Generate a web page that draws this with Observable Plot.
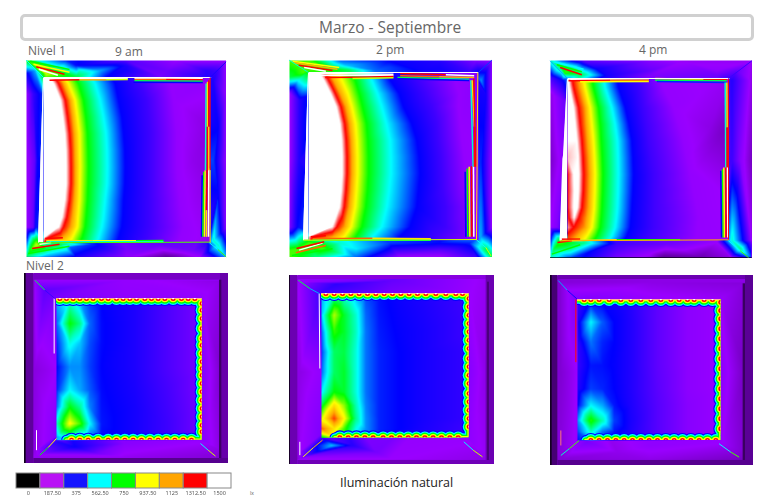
<!DOCTYPE html>
<html><head><meta charset="utf-8">
<script src="https://cdn.jsdelivr.net/npm/d3@7"></script>
<script src="https://cdn.jsdelivr.net/npm/@observablehq/plot@0.6"></script>
<style>
html,body{margin:0;padding:0;background:#fff;width:770px;height:500px;overflow:hidden;font-family:"Open Sans",sans-serif}
.t{position:absolute;white-space:nowrap;color:#666;font-size:12px;line-height:14px}
.p{position:absolute;filter:blur(.35px)}
.q{filter:blur(.55px)}
svg{display:block}
</style></head><body>
<div id="root"></div>
<script>
// illuminance scale (lux) and legend
const levels=[0,187.5,375,562.5,750,937.5,1125,1312.5,1500];
const levelLabels=["0","187.50","375","562.50","750","937.50","1125","1312.50","1500"];
const legendColors=["#000000","#b912f5","#1414ff","#00ffff","#00ff00","#ffff00","#ffa500","#ff0000","#ffffff"];
const fieldColors=["#000000","#9a00ff","#0000ff","#00ffff","#00ff00","#ffff00","#ffa500","#ff0000","#ffffff"];
const isoLevels=[1500,1312.5,1125,937.5,750,562.5,375,300,195];

// ---- Nivel 1, 9 am
const a1Frame=[[0,0,750],[40,0,560],[120,0,400],[300,0,270],[450,0,190],[600,0,190],[30,15,900],[90,15,560],[150,15,380],[300,15,340],[40,25,1000],[100,30,700],[160,30,600],[220,30,500],[300,30,350],[420,30,240],[540,30,320],[60,40,900],[100,42,800],[150,48,700],[240,48,380],[400,48,230],[540,48,330],[0,40,350],[25,30,500],[0,100,190],[0,300,175],[0,500,190],[20,100,310],[25,300,260],[20,500,250],[45,100,400],[33,300,370],[28,500,390],[560,60,340],[575,30,300],[600,100,190],[600,300,185],[600,500,200],[575,200,370],[575,400,370],[560,300,420],[560,540,600],[575,555,600],[600,590,500],[30,552,900],[100,552,700],[200,552,400],[400,552,250],[540,552,320],[15,565,800],[60,565,700],[130,560,450],[300,565,230],[500,570,230],[0,590,650],[50,590,500],[150,590,350],[300,590,200],[420,590,110],[520,590,190]];
const a1Rows=[52,70,120,170,220,270,320,370,420,470,500,535,548];
const a1Iso=[
[70,85,100,115,145,195,255,330,420],[83,97,112,127,157,207,267,342,432],[103,117,132,147,172,222,277,362,442],[110,124,139,154,179,232,287,367,447],[116,130,144,160,184,240,292,372,452],[119,133,146,161,186,243,296,372,452],[120,134,147,162,187,244,297,372,452],[120,134,147,161,186,243,296,372,456],[116,130,144,160,184,237,292,372,462],[108,122,139,156,180,232,290,372,467],[98,112,134,154,177,227,287,372,472],[50,62,107,137,167,217,277,362,462],[45,55,100,130,160,210,270,355,455]];
const a1Extra=[[45,52,1600],[45,300,1600],[45,548,1500],[552,52,200],[552,200,165],[552,350,165],[552,548,180],[500,300,175]];
const a1Wedge=[[52,52],[548,37]];
const a1Walls=[[[52,52,1500],[555,52,1500]],[[52,52,1500],[37,548,1400]],[[552,52,1300],[552,330,1000],[552,548,1500]],[[37,548,800],[552,546,450]],[[550,548,560],[575,568,800],[600,590,500]],[[52,52,560],[0,0,700]],[[552,52,340],[600,5,250]]];
const a1Bands=[[[55,56,1500],[305,55,1500]],[[70,60,1312],[160,59,1100],[240,59,900],[305,58,800]],[[325,54,1500],[530,55,1400]],[[325,58,1200],[420,58,1312],[530,59,1200]],[[325,62,700],[530,63,650]],[[322,66,375],[530,67,375]],
[[528,345,375],[526,530,375]],[[533,335,750],[530,530,750]],[[537,330,937],[535,530,1100]],[[543,328,1312],[541,450,1000],[541,530,1312]],[[548,325,1500],[547,530,1500]],
[[540,70,600],[538,330,560]],[[544,65,1000],[544,200,1300],[544,330,900]],[[548,60,1312],[548,200,1000],[548,330,1312]],
[[57,535,1312],[110,533,1312]],[[60,541,1000],[200,542,937],[330,542,750],[412,541,600]],[[60,545,600],[412,545,400]],
[[12,3,750],[130,28,560]],[[22,12,937],[130,36,750]],[[30,20,1312],[115,42,1000]],[[38,27,1500],[95,45,1500]],
[[40,552,1500],[75,547,1500]],[[18,565,1312],[100,552,1000]],[[6,580,750],[130,558,560]]];

// ---- Nivel 1, 2 pm
const a2Frame=[[0,0,800],[60,0,800],[150,0,450],[300,0,370],[450,0,330],[560,0,220],[608,0,200],[30,15,800],[90,15,800],[170,15,520],[300,20,420],[450,20,350],[60,28,800],[110,28,800],[180,30,700],[260,30,450],[400,30,360],[540,30,300],[0,50,700],[0,100,190],[0,300,190],[0,500,220],[0,570,800],[25,60,560],[30,120,330],[28,300,330],[25,500,380],[42,37,800],[575,60,480],[575,300,400],[590,100,350],[590,300,300],[608,100,190],[608,300,190],[608,500,190],[575,530,500],[590,570,700],[608,590,700],[60,548,800],[150,548,600],[300,548,420],[450,548,380],[540,548,400],[30,565,800],[100,565,800],[200,565,550],[300,570,350],[450,570,260],[0,590,800],[80,590,650],[200,590,450],[330,590,190],[450,590,180],[560,590,300]];
const a2Rows=[37,60,100,140,190,240,290,340,390,440,500,530,540];
const a2Iso=[
[90,105,120,145,185,235,290,375,485],[104,118,133,158,198,248,303,388,498],[124,138,153,176,210,265,330,410,510],[141,155,170,188,220,278,343,428,508],[152,166,181,199,232,292,368,443,513],[157,171,186,203,236,303,383,448,518],[159,173,188,205,238,305,390,455,525],[159,173,188,205,238,305,393,458,530],[156,170,185,202,235,300,388,460,535],[151,165,180,198,230,293,383,468,550],[129,143,166,186,218,278,363,468,560],[56,70,130,165,200,250,330,440,565],[50,65,125,160,195,245,325,435,560]];
const a2Extra=[[58,37,1600],[58,300,1600],[58,540,1500],[568,37,210],[568,300,190],[568,540,200]];
const a2Wedge=[[37,58],[540,43]];
const a2Walls=[[[58,37,1500],[568,37,1500]],[[58,37,1500],[43,540,1500]],[[566,37,1000],[562,540,600]],[[43,540,900],[563,538,400]],[[563,540,560],[590,562,900],[606,588,600]],[[58,37,600],[0,0,800]],[[568,37,420],[608,0,260]]];
const a2Bands=[[[60,40,1500],[313,42,1500]],[[60,45,1500],[313,47,1500]],[[108,52,1312],[200,51,1312],[313,49,900]],[[190,55,900],[313,53,600]],[[333,40,1312],[470,44,1500],[555,47,1312]],[[333,47,1200],[450,50,1100],[555,52,1000]],[[325,52,700],[450,55,650],[540,57,500]],[[325,56,375],[540,61,375]],
[[528,335,375],[530,530,375]],[[534,325,750],[536,530,750]],[[540,320,937],[542,530,1100]],[[547,318,1312],[548,530,1312]],[[553,318,1500],[554,530,1500]],
[[545,60,600],[552,320,560]],[[549,60,1000],[556,200,1300],[556,320,900]],[[554,55,1312],[560,320,1312]],
[[65,530,1312],[110,527,1312]],[[70,536,1200],[250,534,1000],[425,536,750]],[[70,540,700],[425,540,500]],
[[10,3,937],[150,22,750]],[[15,8,1100],[145,27,937]],[[28,15,1312],[130,31,1312]],[[45,22,1500],[110,33,1500]],
[[30,570,1500],[100,549,1500]],[[22,565,1312],[105,545,1312]],[[20,578,1200],[110,556,1100]],[[8,586,750],[130,566,560]]];

// ---- Nivel 1, 4 pm
const a3Frame=[[0,0,600],[30,0,450],[100,0,260],[300,0,210],[400,0,180],[605,0,180],[30,18,700],[70,20,600],[140,25,360],[300,30,250],[500,30,200],[45,35,800],[90,42,700],[170,45,350],[300,45,220],[500,45,240],[0,50,300],[35,60,360],[40,120,240],[0,100,170],[0,300,150],[20,300,180],[35,300,200],[0,500,190],[20,500,220],[545,60,330],[560,30,250],[605,60,170],[605,300,140],[545,300,300],[570,300,210],[605,540,180],[545,540,600],[570,565,650],[600,590,450],[30,545,800],[100,548,650],[200,550,300],[350,550,240],[500,545,190],[10,565,700],[60,565,650],[150,565,340],[300,575,200],[340,590,110],[450,590,130],[0,592,600],[60,592,430],[200,592,230],[300,592,170],[540,592,170],[605,595,130]];
const a3Rows=[53,80,140,190,240,290,340,390,440,470,500,525,540];
const a3Iso=[
[55,65,85,100,125,160,200,265,330],[58,70,90,105,130,165,205,270,340],[70,85,105,120,145,185,225,280,370],[75,90,108,125,150,195,236,288,385],[80,95,112,130,153,202,245,295,400],[84,98,116,133,156,204,248,303,410],[86,100,118,135,158,205,250,310,420],[85,99,117,134,157,204,248,310,430],[82,95,115,132,155,202,245,310,440],[72,86,110,129,153,199,243,310,445],[40,70,105,125,150,195,240,310,450],[30,45,80,110,140,185,230,300,440],[20,35,70,100,130,175,220,290,430]];
const a3Extra=[[52,53,1500],[52,140,1500],[52,240,1500],[52,290,1450],[52,340,1312],[52,390,1312],[52,440,1312],[56,470,1312],[70,340,1500],[72,390,1500],[70,440,1500],[535,53,180],[535,200,140],[535,400,185],[535,537,190],[480,200,170]];
const a3Wedge=[[53,52],[285,40],[295,38],[540,30]];
const a3Rects=[[0,605,592,595,0]];
const a3Walls=[[[52,53,1500],[538,53,1500]],[[52,53,1500],[30,540,1500]],[[535,53,1300],[535,537,1500]],[[30,540,1100],[535,537,400]],[[535,540,560],[570,570,800],[595,590,500]],[[52,53,500],[0,0,700]],[[535,53,300],[605,0,200]]];
const a3Bands=[[[60,56,1500],[296,54,1500]],[[55,60,1312],[180,58,1200],[296,58,1000]],[[90,63,937],[296,62,650]],[[315,53,1100],[460,56,1312],[530,56,1500]],[[315,58,700],[530,60,800]],[[320,62,400],[530,65,420]],
[[512,330,375],[514,530,375]],[[517,325,750],[519,530,750]],[[521,320,937],[523,530,1100]],[[527,318,1312],[528,530,1312]],[[532,318,1500],[533,530,1500]],
[[525,65,600],[527,320,560]],[[530,65,1000],[531,200,1300],[531,320,900]],
[[35,535,1312],[90,535,1312]],[[40,540,1000],[200,537,750],[390,537,560]],
[[10,3,562],[100,25,450]],[[20,12,750],[95,33,560]],[[30,20,1312],[95,42,937]],
[[22,545,1312],[65,540,1000]],[[5,580,750],[90,552,560]]];

// ---- Nivel 2, shared columns per panel with illuminance rows
const b1Frame=[[30,20,190],[300,20,195],[590,20,170],[95,72,230],[300,72,200],[530,72,195],[60,50,260],[30,290,165],[90,290,185],[30,530,170],[90,490,210],[590,290,150],[535,290,215],[590,530,165],[535,500,210],[35,545,180],[100,505,330],[150,520,360],[220,540,230],[300,510,210],[530,505,190],[590,545,160],[300,550,180]];
const b1Rects=[[0,28,0,570,115],[28,613,0,20,145],[588,613,0,570,125],[28,613,555,570,105],[0,5,0,570,20],[585,592,20,555,75]];
const b1Box=[95,532,75,500];
const b1Cols=[95,135,165,195,230,330,430,532];
const b1Rows=[75,85,150,210,280,350,400,450,490,500];
const b1Values=[[500,560,470,420,375,340,280,225],[500,600,500,420,375,340,280,225],[450,750,650,450,380,340,280,225],[400,580,520,430,380,340,280,225],[375,480,480,420,375,340,280,225],[400,560,500,440,380,345,290,225],[450,740,640,470,385,350,295,230],[600,950,800,560,390,350,300,230],[500,620,500,450,380,350,300,235],[500,600,480,430,375,350,300,235]];
const b1Top=[105,125,145,165,185,205,230,250,275,295,315,335,360,380,400,420,445,470,490,510];
const b1Right=[90,110,135,165,195,215,240,265,285,305,330,355,380,405,430,455,475];
const b1Bottom=[140,165,190,220,250,275,300,325,350,375,400,425,450,475,500];
const b1Walls=[[[88,75,1500],[88,240,900]],[[30,20,700],[60,50,300],[90,75,1500]],[[45,545,750],[70,522,937],[95,495,400]],[[527,510,560],[550,530,900],[572,548,400]],[[35,470,1500],[35,530,1500]]];

const b2Frame=[[30,20,190],[140,25,320],[310,15,250],[590,20,180],[95,52,300],[300,52,230],[538,52,190],[30,290,170],[90,290,195],[30,530,185],[90,480,220],[590,290,170],[542,290,210],[590,530,180],[542,495,200],[128,510,520],[190,510,330],[260,530,230],[90,510,400],[30,550,190],[300,550,190],[590,555,170],[538,495,190]];
const b2Rects=[[0,25,0,567,130],[25,616,0,12,165],[590,616,0,567,130],[25,616,555,567,135],[0,3,0,567,30],[594,600,20,555,90]];
const b2Box=[95,538,55,488];
const b2Cols=[95,133,163,198,228,268,328,398,538];
const b2Rows=[55,65,120,170,230,290,350,390,430,460,488];
const b2Values=[[500,640,600,510,430,385,360,340,300],[500,650,600,520,430,385,360,340,300],[520,880,720,600,450,390,365,345,300],[450,780,720,610,460,395,370,350,300],[420,680,700,590,460,400,375,350,310],[450,680,720,590,460,400,375,350,310],[550,750,720,590,460,400,375,350,310],[700,1000,850,620,470,400,375,350,310],[900,1250,950,650,480,400,375,350,310],[1200,1000,800,580,480,400,375,345,300],[700,900,700,520,450,390,360,340,300]];
const b2Top=[108,133,158,183,208,233,258,283,308,333,358,383,408,438,468,498,518];
const b2Right=[70,95,120,145,170,195,220,250,275,300,325,355,380,405,430,455];
const b2Bottom=[150,175,200,225,250,280,305,330,355,380,405,430,455,480,505];
const b2Walls=[[[88,55,1500],[90,280,900]],[[25,15,700],[60,40,500],[88,55,1300]],[[40,545,937],[70,518,1100],[98,495,500]],[[522,500,560],[550,525,900],[578,545,400]],[[30,500,1500],[30,540,1300]]];

const b3Frame=[[30,20,160],[300,20,170],[585,20,160],[80,72,220],[300,72,195],[510,72,185],[30,290,155],[75,290,185],[30,530,165],[75,490,190],[585,290,140],[515,290,205],[585,530,150],[515,500,190],[110,500,230],[200,530,175],[300,510,200],[35,550,160],[300,555,170],[585,555,140]];
const b3Rects=[[0,22,0,570,85],[22,610,0,12,130],[585,610,0,570,110],[22,610,555,570,105],[0,5,0,570,25],[578,585,25,555,70]];
const b3Box=[80,510,72,495];
const b3Cols=[80,120,155,190,240,320,410,510];
const b3Rows=[72,85,140,200,270,340,390,435,470,495];
const b3Values=[[300,400,375,360,330,260,205,190],[300,400,375,360,330,260,205,190],[340,560,440,375,335,260,205,190],[320,460,400,375,335,260,205,190],[310,390,385,370,335,260,205,190],[330,420,400,375,335,265,205,190],[370,560,500,390,340,270,210,190],[480,780,620,420,345,270,210,190],[420,600,450,385,340,270,210,190],[380,460,400,370,330,265,205,190]];
const b3Top=[100,120,145,175,210,240,270,300,330,360,385,410,430,460,485];
const b3Right=[80,105,130,160,190,220,250,280,310,340,370,400,430,460];
const b3Bottom=[120,145,170,195,220,245,270,295,320,345,370,395,420,445,470,495];
const b3Walls=[[[75,72,1300],[75,260,450]],[[22,15,500],[50,45,350],[78,70,500]],[[30,540,600],[55,520,800],[85,495,400]],[[505,505,560],[540,530,800],[565,545,400]],[[30,465,1400],[30,510,1300]]];

const scallopLevels=[375,562.5,750,937.5,1312.5,1500];
const scallopRadii=[7.5,6.4,5.2,3.8,2.5,1];

// ---- helpers
const color={type:"linear",domain:levels,range:fieldColors,clamp:true};
const root=document.getElementById("root");
const pts=a=>a.map(([x,y,v])=>({x,y,v}));
const put=(el,left,top,cls="")=>{const d=document.createElement("div");d.className="p "+cls;d.style.left=left+"px";d.style.top=top+"px";d.append(el);root.append(d);};
const text=(s,left,top,css="")=>{const d=document.createElement("div");d.className="t";d.textContent=s;d.style.cssText=`left:${left}px;top:${top}px;${css}`;root.append(d);};
const field=(data,x1,x2,y1,y2)=>Plot.raster(data,{x:"x",y:"y",fill:"v",interpolate:"barycentric",pixelSize:1,x1,x2,y1,y2});
const stripRows=list=>list.flatMap((l,i)=>l.map(([x,y,v])=>({id:i,x,y,v})));
const strip=(list,w)=>Plot.line(stripRows(list),{x:"x",y:"y",z:"id",stroke:"v",strokeWidth:w,strokeLinecap:"butt"});
const rects=list=>Plot.rect(list.map(([x1,x2,y1,y2,v])=>({x1,x2,y1,y2,v})),{x1:"x1",x2:"x2",y1:"y1",y2:"y2",fill:"v"});

function framePlot(left,top,w,h,marks){
  put(Plot.plot({width:w/3,height:h/3,margin:0,x:{domain:[0,w],axis:null},y:{domain:[h,0],axis:null},color,marks,style:{background:"none"}}),left,top);
}
function roomPlot(left,top,[x1,x2,y1,y2],marks,cls){
  put(Plot.plot({width:(x2-x1)/3,height:(y2-y1)/3,margin:0,x:{domain:[x1,x2],axis:null},y:{domain:[y2,y1],axis:null},color,marks,style:{background:"none",overflow:"visible"}}),left+x1/3,top+y1/3,cls);
}
function upper(left,top,w,h,frame,rows,iso,extra,box,wedge,walls,bands,extraRects=[]){
  framePlot(left,top,w,h,[field(pts(frame),0,w,0,h),rects(extraRects)]);
  const data=pts(extra).concat(rows.flatMap((y,i)=>iso[i].map((x,j)=>({x,y,v:isoLevels[j]}))));
  const wedgeRows=wedge.map(([y,x1])=>({y,x1,x2:box[0]}));
  roomPlot(left,top,box,[field(data,box[0],box[1],box[2],box[3]),
    Plot.areaX(wedgeRows,{y:"y",x1:"x1",x2:"x2",fill:()=>1500}),
    strip(bands,1.5),strip(walls,1)],"q");
}
function lower(left,top,w,h,frame,frameRects,box,cols,rows,values,tops,rights,bottoms,walls){
  framePlot(left,top,w,h,[field(pts(frame),0,w,0,h),rects(frameRects)]);
  const data=rows.flatMap((y,i)=>cols.map((x,j)=>({x,y,v:values[i][j]})));
  const anchors=[...tops.map(x=>({x,y:box[2]})),...rights.map(y=>({x:box[1],y})),...bottoms.map(x=>({x,y:box[3]}))];
  const rim=[{x:box[0],y:box[2]},{x:box[1],y:box[2]},{x:box[1],y:box[3]},{x:bottoms[0]-15,y:box[3]}];
  const marks=[field(data,box[0],box[1],box[2],box[3])];
  scallopLevels.forEach((v,i)=>{
    const r=scallopRadii[i];
    marks.push(Plot.line(rim,{x:"x",y:"y",stroke:()=>v,strokeWidth:Math.max(r-2.4,0)*2+.6,clip:"frame"}));
    marks.push(Plot.dot(anchors,{x:"x",y:"y",r,fill:()=>v,clip:"frame"}));
  });
  roomPlot(left,top,box,marks,"q");
  roomPlot(left,top,box,[strip(walls,1)],"q");
}

// ---- page texts
const box=document.createElement("div");
box.style.cssText="position:absolute;left:20px;top:14px;width:728px;height:21px;border:3px solid #d0d0d0;border-radius:5px;";
root.append(box);
text("Marzo - Septiembre",319,17,"font-size:15.5px;line-height:20px;color:#666");
text("Nivel 1",28,44); text("9 am",115,45); text("2 pm",376,43); text("4 pm",639,43); text("Nivel 2",26,259);
text("Iluminación natural",340,475,"font-size:12.5px;line-height:16px;color:#222");
text("lx",250,490,"font-size:5px;line-height:7px;color:#555");

// ---- panels
upper(26,60,601,592,a1Frame,a1Rows,a1Iso,a1Extra,[52,552,52,548],a1Wedge,a1Walls,a1Bands);
upper(289,60,608,590,a2Frame,a2Rows,a2Iso,a2Extra,[58,568,37,540],a2Wedge,a2Walls,a2Bands);
upper(550,60,605,595,a3Frame,a3Rows,a3Iso,a3Extra,[52,535,53,537],a3Wedge,a3Walls,a3Bands,a3Rects);
lower(24,273,613,570,b1Frame,b1Rects,b1Box,b1Cols,b1Rows,b1Values,b1Top,b1Right,b1Bottom,b1Walls);
lower(289,275,616,567,b2Frame,b2Rects,b2Box,b2Cols,b2Rows,b2Values,b2Top,b2Right,b2Bottom,b2Walls);
lower(550,275,610,570,b3Frame,b3Rects,b3Box,b3Cols,b3Rows,b3Values,b3Top,b3Right,b3Bottom,b3Walls);

// ---- legend
const legend=levelLabels.map((label,i)=>({label,v:levels[i]}));
put(Plot.plot({width:218,height:29,marginTop:1,marginBottom:13,marginLeft:1,marginRight:2,
  x:{type:"band",domain:levelLabels,padding:0,round:false,label:null},y:{axis:null},
  color:{type:"linear",domain:levels,range:legendColors,clamp:true},
  style:{background:"none"},
  marks:[Plot.cell(legend,{x:"label",fill:"v",stroke:"#888",strokeWidth:1}),
         Plot.axisX({tickSize:0,tickPadding:3,fontSize:5.5,fill:"#555",label:null})]}),15,472);
</script>
</body></html>
